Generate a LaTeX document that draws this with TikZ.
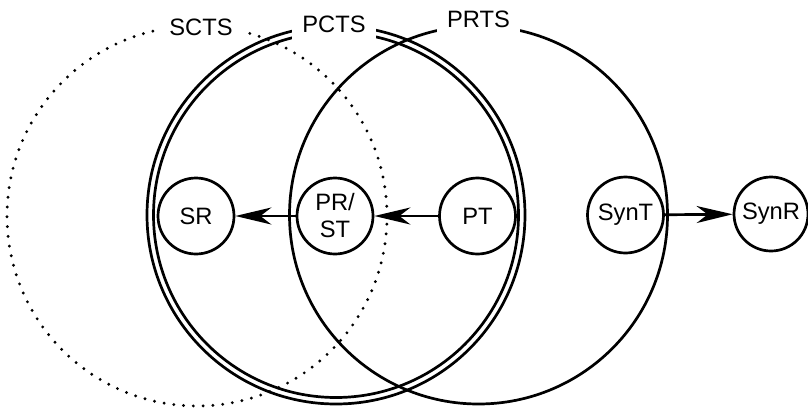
\documentclass[tikz,border=0pt]{standalone}
\usepackage{fontspec}
\setmainfont{Liberation Sans}
\usetikzlibrary{arrows.meta}
\begin{document}
\begin{tikzpicture}[x=1pt, y=-1pt,
  ring/.style={line width=2.7pt},
  dotring/.style={line width=3.2pt, line cap=round, dash pattern=on 0pt off 9.8pt},
  setlabel/.style={fill=white, inner xsep=10pt, inner ysep=8pt,
    text height=17pt, text depth=0pt, font=\fontsize{23.7pt}{27pt}\selectfont},
  state/.style={circle, draw, line width=2.7pt, fill=white, minimum size=76pt,
    inner sep=0pt, align=center, font=\fontsize{23.7pt}{27pt}\selectfont},
  arr/.style={line width=2.7pt, -{Stealth[length=36pt, width=17pt, inset=11pt]}}
]
\useasboundingbox (0,0) rectangle (808,408);

% transition systems
\draw[dotring] (197,216) circle[radius=190pt];
\draw[ring] (336,215) circle[radius=189pt];
\draw[ring] (336,215) circle[radius=182.5pt];
\draw[ring] (478.5,215) circle[radius=189pt];

% set names
\node[setlabel, inner xsep=12pt, inner ysep=6pt] (scts) at (201,26.5) {SCTS};
\node[setlabel] (pcts) at (334,24) {PCTS};
\node[setlabel] (prts) at (478.5,18.5) {PRTS};

% roles
\node[state] (SR) at (196,216) {SR};
\node[state] (PRST) at (335,216) {PR/\\ST};
\node[state] (PT) at (477.5,216) {PT};
\node[state] (SynT) at (625.5,215) {SynT};
\node[state, minimum size=74pt] (SynR) at (771,214) {SynR};

% flows
\draw[arr] (PRST) -- (SR);
\draw[arr] (PT) -- (PRST);
\draw[arr] (SynT) -- (SynR);
\end{tikzpicture}
\end{document}
